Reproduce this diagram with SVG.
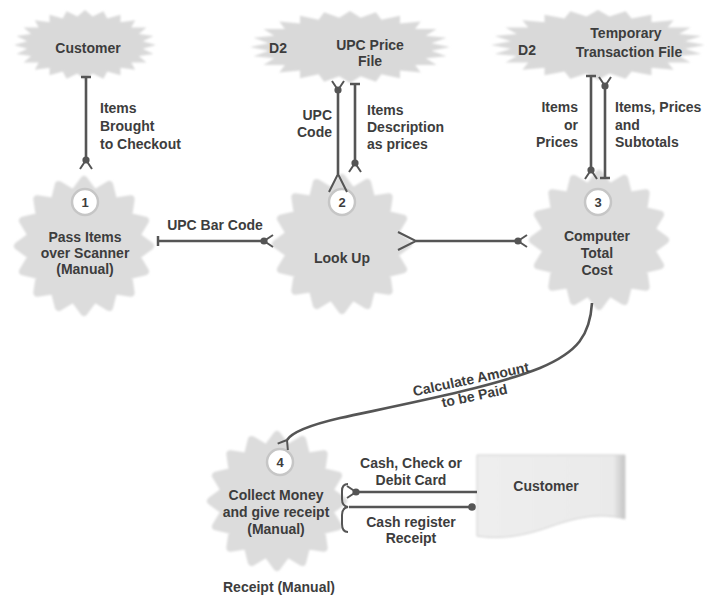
<svg xmlns="http://www.w3.org/2000/svg" width="712" height="598" viewBox="0 0 712 598">
  <style>
    .lbl{font-family:"Liberation Sans",Arial,Helvetica,sans-serif;font-size:14px;font-weight:bold;fill:#3d3d3d}
    .mid{text-anchor:middle}
    .end{text-anchor:end}
    .gear{fill:#dcdcdc;stroke:#dcdcdc;stroke-width:8;stroke-linejoin:round}
    .cloud{fill:#d9d9d9}
    .num{fill:#ffffff;stroke:#c6c6c6;stroke-width:2.5}
    .flow{fill:none;stroke:#555555;stroke-width:2.6}
    .tick{fill:none;stroke:#555555;stroke-width:2}
  </style>
  <defs>
    <filter id="soft" x="-10%" y="-10%" width="120%" height="120%">
      <feGaussianBlur stdDeviation="1.2"/>
    </filter>
    <linearGradient id="docFill" x1="0" y1="0" x2="1" y2="0">
      <stop offset="0" stop-color="#eeeeee"/>
      <stop offset="0.92" stop-color="#eaeaea"/>
      <stop offset="1" stop-color="#c4c4c4"/>
    </linearGradient>
    <!-- 16-tooth process gear, centred on 0,0 -->
    <polygon id="gearShape" points="66,0 51.98,10.34 60.98,25.26 44.07,29.45 46.67,46.67 29.45,44.07 25.26,60.98 10.34,51.98 0,66 -10.34,51.98 -25.26,60.98 -29.45,44.07 -46.67,46.67 -44.07,29.45 -60.98,25.26 -51.98,10.34 -66,0 -51.98,-10.34 -60.98,-25.26 -44.07,-29.45 -46.67,-46.67 -29.45,-44.07 -25.26,-60.98 -10.34,-51.98 0,-66 10.34,-51.98 25.26,-60.98 29.45,-44.07 46.67,-46.67 44.07,-29.45 60.98,-25.26 51.98,-10.34"/>
    <!-- 24-point burst, unit radius 100, scaled per use -->
    <polygon id="burst" points="100,0 81.29,10.70 96.59,25.88 75.76,31.38 86.60,50 65.06,49.92 70.71,70.71 49.92,65.06 50,86.60 31.38,75.76 25.88,96.59 10.70,81.29 0,100 -10.70,81.29 -25.88,96.59 -31.38,75.76 -50,86.60 -49.92,65.06 -70.71,70.71 -65.06,49.92 -86.60,50 -75.76,31.38 -96.59,25.88 -81.29,10.70 -100,0 -81.29,-10.70 -96.59,-25.88 -75.76,-31.38 -86.60,-50 -65.06,-49.92 -70.71,-70.71 -49.92,-65.06 -50,-86.60 -31.38,-75.76 -25.88,-96.59 -10.70,-81.29 0,-100 10.70,-81.29 25.88,-96.59 31.38,-75.76 50,-86.60 49.92,-65.06 70.71,-70.71 65.06,-49.92 86.60,-50 75.76,-31.38 96.59,-25.88 81.29,-10.70"/>
    <marker id="dotFork" markerUnits="userSpaceOnUse" markerWidth="24" markerHeight="24" viewBox="-12 -12 24 24" refX="0" refY="0" orient="auto" overflow="visible">
      <circle r="3.6" fill="#555555"/>
      <path d="M0,0 L9,-6 M0,0 L9,6" stroke="#555555" stroke-width="2" fill="none"/>
    </marker>
    <marker id="dot" markerUnits="userSpaceOnUse" markerWidth="24" markerHeight="24" viewBox="-12 -12 24 24" refX="0" refY="0" orient="auto" overflow="visible">
      <circle r="3.8" fill="#555555"/>
    </marker>
    <marker id="fork" markerUnits="userSpaceOnUse" markerWidth="24" markerHeight="24" viewBox="-12 -12 24 24" refX="0" refY="0" orient="auto" overflow="visible">
      <path d="M0,0 L8,-6 M0,0 L8,6" stroke="#555555" stroke-width="2" fill="none"/>
    </marker>
    <marker id="forkIn" markerUnits="userSpaceOnUse" markerWidth="40" markerHeight="40" viewBox="-20 -20 40 40" refX="0" refY="0" orient="auto" overflow="visible">
      <path d="M-18,-9 L0,0 L-18,9" stroke="#555555" stroke-width="2" fill="none"/>
    </marker>
    <marker id="bar" markerUnits="userSpaceOnUse" markerWidth="20" markerHeight="20" viewBox="-10 -10 20 20" refX="0" refY="0" orient="auto" overflow="visible">
      <path d="M0,-5 L0,5" stroke="#555555" stroke-width="2.5" fill="none"/>
    </marker>
  </defs>

  <rect width="712" height="598" fill="#ffffff"/>

  <!-- external entity: Customer -->
  <g id="customer-top">
    <g filter="url(#soft)"><use href="#burst" class="cloud" transform="translate(85,45) scale(0.71,0.35)"/></g>
    <text class="lbl mid" x="88" y="53">Customer</text>
  </g>

  <!-- data store: UPC Price File -->
  <g id="store-upc">
    <g filter="url(#soft)"><use href="#burst" class="cloud" transform="translate(350,47) scale(1.0,0.36)"/></g>
    <text class="lbl mid" x="278" y="53">D2</text>
    <text class="lbl mid" x="370" y="50">UPC Price</text>
    <text class="lbl mid" x="370" y="66">File</text>
  </g>

  <!-- data store: Temporary Transaction File -->
  <g id="store-temp">
    <g filter="url(#soft)"><use href="#burst" class="cloud" transform="translate(598,45) scale(1.07,0.35)"/></g>
    <text class="lbl mid" x="527" y="55">D2</text>
    <text class="lbl mid" x="626" y="38">Temporary</text>
    <text class="lbl mid" x="629" y="57">Transaction File</text>
  </g>

  <!-- process 1 -->
  <g id="process-1">
    <g filter="url(#soft)"><use href="#gearShape" class="gear" transform="translate(84,246)"/></g>
    <circle class="num" cx="85" cy="202" r="13"/>
    <text class="lbl mid" x="85" y="207" style="font-size:13px">1</text>
    <text class="lbl mid" x="85" y="242">Pass Items</text>
    <text class="lbl mid" x="85" y="258">over Scanner</text>
    <text class="lbl mid" x="85" y="274">(Manual)</text>
  </g>

  <!-- process 2 -->
  <g id="process-2">
    <g filter="url(#soft)"><use href="#gearShape" class="gear" transform="translate(342,244)"/></g>
    <circle class="num" cx="342" cy="202" r="13"/>
    <text class="lbl mid" x="342" y="207" style="font-size:13px">2</text>
    <text class="lbl mid" x="342" y="263">Look Up</text>
  </g>

  <!-- process 3 -->
  <g id="process-3">
    <g filter="url(#soft)"><use href="#gearShape" class="gear" transform="translate(599,240)"/></g>
    <circle class="num" cx="598" cy="202" r="13"/>
    <text class="lbl mid" x="598" y="207" style="font-size:13px">3</text>
    <text class="lbl mid" x="597" y="241">Computer</text>
    <text class="lbl mid" x="597" y="258">Total</text>
    <text class="lbl mid" x="597" y="275">Cost</text>
  </g>

  <!-- process 4 -->
  <g id="process-4">
    <g filter="url(#soft)"><use href="#gearShape" class="gear" transform="translate(277,501)"/></g>
    <circle class="num" cx="280" cy="462" r="13"/>
    <text class="lbl mid" x="280" y="467" style="font-size:13px">4</text>
    <text class="lbl mid" x="276" y="500">Collect Money</text>
    <text class="lbl mid" x="276" y="517">and give receipt</text>
    <text class="lbl mid" x="276" y="534">(Manual)</text>
  </g>

  <!-- external entity: Customer (document shape) -->
  <g id="customer-doc">
    <path d="M477,455 L625,455 L625,519 C600,512 575,518 552,526 C525,536 500,540 477,536 Z" fill="url(#docFill)" stroke="#cfcfcf" stroke-width="1" filter="url(#soft)"/>
    <text class="lbl mid" x="546" y="491">Customer</text>
  </g>

  <text id="receipt-note" class="lbl mid" x="279" y="592">Receipt (Manual)</text>

  <!-- data flows -->
  <g id="connectors">
    <path class="flow" d="M86,77 L86,160" marker-start="url(#bar)" marker-end="url(#dotFork)"/>
    <path class="flow" d="M158,241 L264,241" marker-start="url(#bar)" marker-end="url(#dotFork)"/>
    <path class="flow" d="M416,241 L518,241" marker-start="url(#forkIn)" marker-end="url(#dotFork)"/>
    <path class="flow" d="M338,174 L338,90" marker-start="url(#forkIn)" marker-end="url(#dotFork)"/>
    <path class="flow" d="M355,84 L355,163" marker-start="url(#bar)" marker-end="url(#dotFork)"/>
    <path class="flow" d="M591,76 L591,170" marker-start="url(#bar)" marker-end="url(#dotFork)"/>
    <path class="flow" d="M605,178 L605,86" marker-start="url(#bar)" marker-end="url(#dotFork)"/>
    <path class="flow" d="M592,303 C590,335 578,352 540,368 C490,388 400,405 340,418 C310,425 292,432 287,440" marker-end="url(#fork)"/>
    <path class="flow" d="M477,492 L356,492" marker-end="url(#dotFork)"/>
    <path class="flow" d="M349,507 L472,507" marker-end="url(#dot)"/>
    <path class="tick" d="M348,484 Q342,484 342,491 L342,499 Q342,506 348,507 Q342,508 342,515 L342,524 Q342,532 348,532"/>

    <text class="lbl" x="100" y="113">Items</text>
    <text class="lbl" x="100" y="131">Brought</text>
    <text class="lbl" x="100" y="149">to Checkout</text>

    <text class="lbl mid" x="215" y="230">UPC Bar Code</text>

    <text class="lbl end" x="332" y="120">UPC</text>
    <text class="lbl end" x="332" y="137">Code</text>
    <text class="lbl" x="367" y="115">Items</text>
    <text class="lbl" x="367" y="132">Description</text>
    <text class="lbl" x="367" y="149">as prices</text>

    <text class="lbl end" x="578" y="112">Items</text>
    <text class="lbl end" x="578" y="130">or</text>
    <text class="lbl end" x="578" y="147">Prices</text>
    <text class="lbl" x="615" y="112">Items, Prices</text>
    <text class="lbl" x="615" y="130">and</text>
    <text class="lbl" x="615" y="147">Subtotals</text>

    <g transform="translate(471,380) rotate(-12)">
      <text class="lbl mid" x="0" y="4">Calculate Amount</text>
      <text class="lbl mid" x="0" y="21">to be Paid</text>
    </g>

    <text class="lbl mid" x="411" y="468">Cash, Check or</text>
    <text class="lbl mid" x="411" y="485">Debit Card</text>
    <text class="lbl mid" x="411" y="527">Cash register</text>
    <text class="lbl mid" x="411" y="543">Receipt</text>
  </g>
</svg>
